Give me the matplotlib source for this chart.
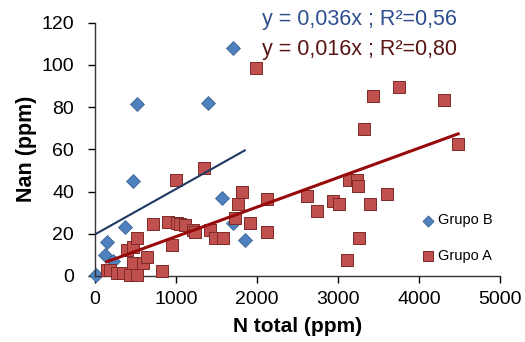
import matplotlib
matplotlib.use("Agg")
import matplotlib.pyplot as plt
import numpy as np

plt.rcParams['font.family'] = ['Liberation Sans', 'DejaVu Sans']

# Grupo B (blue diamonds)
b_x = [8, 123, 152, 226, 370, 465, 514, 1399, 1564, 1700, 1708, 1852]
b_y = [0.3, 10, 16, 7, 23, 45, 81.5, 82, 37, 108, 25, 17]

# Grupo A (red squares)
a_x = [144, 185, 267, 350, 432, 514, 473, 597, 391, 473, 514, 638, 720, 823,
       905, 946, 1008, 1049, 1111, 1214, 1235, 1420, 1481, 1584, 996, 1346,
       1728, 1770, 1819, 1914, 1988, 2119, 2119, 2621, 2737, 2942, 3016, 3107,
       3136, 3230, 3251, 3259, 3321, 3395, 3428, 3601, 3749, 4312, 4486]
a_y = [2.8, 2.8, 1.3, 1.3, 0.5, 0.5, 6, 6, 12.3, 13.8, 18, 9, 24.8, 2.5,
       25.6, 14.6, 25.1, 24.8, 24.1, 21.7, 21, 21.7, 17.8, 17.8, 45.6, 51.1,
       27.5, 34.3, 39.8, 25.1, 98.3, 36.6, 20.9, 37.9, 30.7, 35.4, 34.0, 7.5,
       45.6, 45.3, 42.5, 18.1, 69.7, 34.3, 85, 39, 89.6, 83.3, 62.6]

# trend lines as drawn: intercept, slope, x-range
b_fit = [19.7, 0.0215]
b_range = [0, 1850]
a_fit = [4.7, 0.01396]
a_range = [144, 4486]

b_label = "y = 0,036x ; R²=0,56"
a_label = "y = 0,016x ; R²=0,80"

x_ticks = [0, 1000, 2000, 3000, 4000, 5000]
y_ticks = [0, 20, 40, 60, 80, 100, 120]

fig = plt.figure(figsize=(5.25, 3.42), dpi=100)
ax = fig.add_axes([0.181, 0.193, 0.771, 0.741])

ax.scatter(b_x, b_y, marker='D', s=50, color='#4F81BD', edgecolor='#3A6494',
           linewidth=0.6, label='Grupo B', zorder=2, clip_on=False)
ax.scatter(a_x, a_y, marker='s', s=80, color='#C0504D', edgecolor='#7F2A28',
           linewidth=0.7, label='Grupo A', zorder=3, clip_on=False)

bx = np.array(b_range)
ax.plot(bx, b_fit[0] + b_fit[1] * bx, color='#1F3864', lw=1.5, zorder=4)
axx = np.array(a_range)
ax.plot(axx, a_fit[0] + a_fit[1] * axx, color='#960A0A', lw=2.2, zorder=4)

ax.set_xlim(0, 5000)
ax.set_ylim(0, 120)
ax.set_xticks(x_ticks)
ax.set_yticks(y_ticks)
ax.tick_params(labelsize=14, direction='out', length=5, width=1, colors='black')
ax.tick_params(axis='y', pad=10)
ax.tick_params(axis='x', pad=6)
for s in ['top', 'right']:
    ax.spines[s].set_visible(False)
for s in ['left', 'bottom']:
    ax.spines[s].set_color('#333333')
    ax.spines[s].set_linewidth(1)

ax.set_xlabel('N total (ppm)', fontsize=15, fontweight='bold', labelpad=6)
ax.set_ylabel('Nan (ppm)', fontsize=15.5, fontweight='bold', labelpad=3)

fig.text(262 / 525, 1 - 20 / 342, b_label, fontsize=15.5, color='#2F4F8F',
         va='center', ha='left')
fig.text(262 / 525, 1 - 50 / 342, a_label, fontsize=15.5, color='#5A1515',
         va='center', ha='left')

leg = ax.legend(loc='center left', bbox_to_anchor=((421 - 95) / 405, (276 - 238) / 253.3),
                frameon=False, fontsize=10.5, handletextpad=0.2, labelspacing=1.45,
                handlelength=1.0, borderaxespad=0.0, borderpad=0.0, markerscale=0.8)

fig.savefig('out.png', dpi=100)
